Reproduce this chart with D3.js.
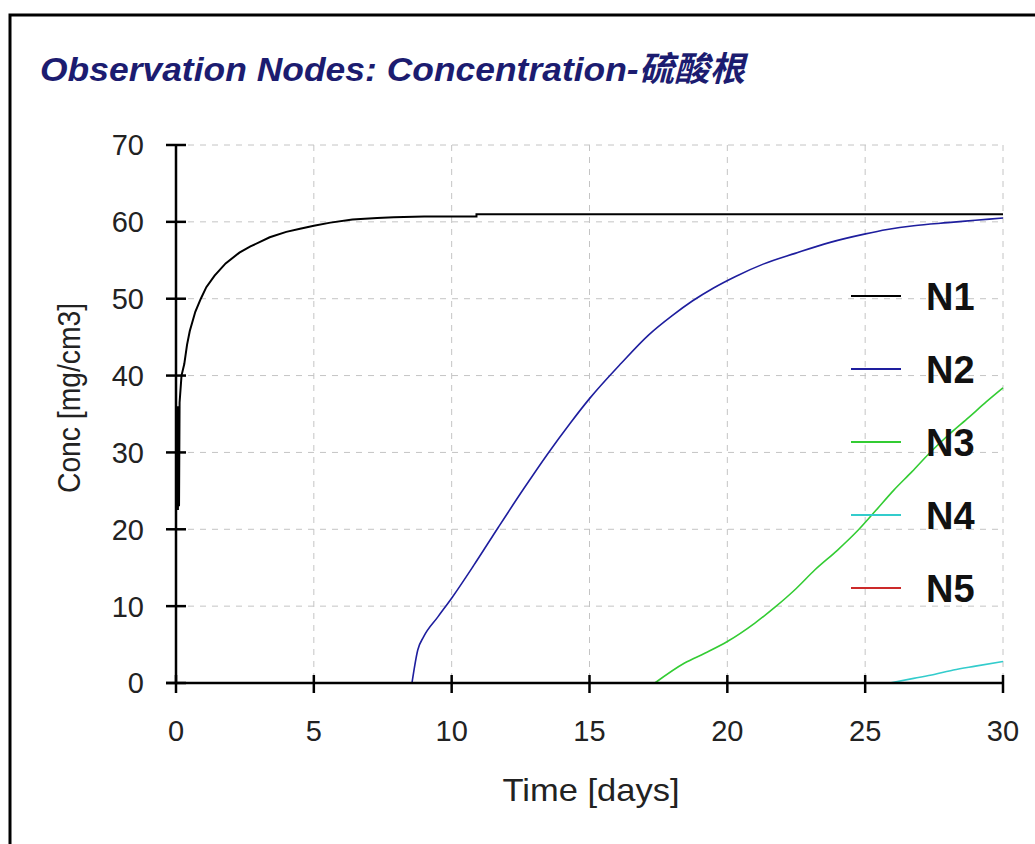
<!DOCTYPE html>
<html>
<head>
<meta charset="utf-8">
<script src="https://cdn.jsdelivr.net/npm/d3@7"></script>
<style>
  body { margin: 0; background: #fff; }
  svg { display: block; }
  text { font-family: "Liberation Sans", Arial, "Noto Sans CJK SC", sans-serif; }
</style>
</head>
<body>
<svg id="chart" width="1035" height="844"></svg>
<script>
// series: [time (days), conc]
var seriesNames = ["N1", "N2", "N3", "N4", "N5"];
var seriesColors = ["#000000", "#1e1e9e", "#33cc33", "#33cccc", "#cc2a2a"];

var n1 = [[0.05, 36], [0.07, 22.5], [0.09, 36], [0.11, 23], [0.13, 36.5], [0.2, 40], [0.3, 41.5],
  [0.4, 44], [0.5, 45.8], [0.7, 48.3], [0.9, 50], [1.1, 51.5], [1.4, 53], [1.8, 54.6], [2.3, 56],
  [2.7, 56.8], [3.4, 58], [4.0, 58.7], [4.5, 59.1], [5.0, 59.5], [5.6, 59.9], [6.4, 60.3],
  [7.3, 60.5], [7.9, 60.6], [9.0, 60.7], [10.9, 60.7], [10.9, 61.0], [30, 61.0]];
var n2 = [[8.56, 0], [8.77, 4.3], [8.98, 6.0], [9.5, 8.6], [10.03, 11.2], [10.8, 15.3], [11.7, 20.3],
  [12.6, 25.2], [13.5, 29.9], [14.3, 33.8], [15.0, 37.0], [16.15, 41.6], [17.15, 45.3], [18.0, 47.8],
  [18.73, 49.7], [19.5, 51.4], [20.3, 52.9], [21.3, 54.5], [22.46, 55.9], [23.7, 57.3], [24.97, 58.4],
  [25.8, 59.0], [26.76, 59.5], [28.0, 59.9], [29.0, 60.2], [30.0, 60.5]];
var n3 = [[17.37, 0], [18.45, 2.6], [19.2, 3.9], [20.0, 5.4], [21.0, 7.8], [21.74, 9.9], [22.5, 12.3],
  [23.17, 14.7], [24.0, 17.3], [24.75, 19.9], [25.4, 22.5], [26.04, 25.1], [26.7, 27.5], [27.33, 29.9],
  [28.0, 32.2], [28.77, 34.6], [29.4, 36.6], [30, 38.4]];
var n4 = [[25.9, 0], [26.76, 0.6], [27.5, 1.1], [28.2, 1.7], [29.0, 2.2], [30, 2.8]];
var n5 = [[0, 0], [30, 0]];
var seriesData = [n1, n2, n3, n4, n5];

var xTicks = [0, 5, 10, 15, 20, 25, 30];
var yTicks = [0, 10, 20, 30, 40, 50, 60, 70];

var titleText = "Observation Nodes: Concentration-硫酸根";
var xLabel = "Time [days]";
var yLabel = "Conc [mg/cm3]";

var svg = d3.select("#chart");

// frame
svg.append("path")
  .attr("d", "M10,844V15H1035")
  .attr("fill", "none")
  .attr("stroke", "#000")
  .attr("stroke-width", 3);

var x = d3.scaleLinear().domain([0, 30]).range([176, 1003]);
var y = d3.scaleLinear().domain([0, 70]).range([683, 145]);

// grid
var grid = svg.append("g").attr("stroke", "#c4c4c4").attr("stroke-dasharray", "6,6").attr("stroke-width", 1);
grid.selectAll(".gx").data(xTicks.filter(d => d > 0)).enter().append("line")
  .attr("x1", d => x(d)).attr("x2", d => x(d))
  .attr("y1", y(70)).attr("y2", y(0));
grid.selectAll(".gy").data(yTicks.filter(d => d > 0)).enter().append("line")
  .attr("x1", x(0)).attr("x2", x(30))
  .attr("y1", d => y(d)).attr("y2", d => y(d));

// curves (N1 has vertical steps, keep it linear)
var lineStep = d3.line().x(d => x(d[0])).y(d => y(d[1]));
var lineSmooth = d3.line().x(d => x(d[0])).y(d => y(d[1])).curve(d3.curveMonotoneX);
// draw N5 first so the axis covers it
for (var i = seriesData.length - 1; i >= 0; i--) {
  svg.append("path")
    .datum(seriesData[i])
    .attr("d", i == 0 ? lineStep : lineSmooth)
    .attr("fill", "none")
    .attr("stroke", seriesColors[i])
    .attr("stroke-width", i == 0 ? 2 : 1.6);
}

// axes
var ax = svg.append("g").attr("stroke", "#000").attr("stroke-width", 2.5);
ax.append("line").attr("x1", x(0)).attr("x2", x(0)).attr("y1", y(70)).attr("y2", y(0));
ax.append("line").attr("x1", x(0) - 10).attr("x2", x(30)).attr("y1", y(0)).attr("y2", y(0));
ax.selectAll(".ty").data(yTicks).enter().append("line")
  .attr("x1", x(0) - 10).attr("x2", x(0) + 10)
  .attr("y1", d => y(d)).attr("y2", d => y(d));
ax.selectAll(".tx").data(xTicks).enter().append("line")
  .attr("x1", d => x(d)).attr("x2", d => x(d))
  .attr("y1", y(0) - 8).attr("y2", y(0) + 10);

// tick labels
svg.selectAll(".ly").data(yTicks).enter().append("text")
  .attr("x", 144).attr("y", d => y(d))
  .attr("dy", "0.36em")
  .attr("text-anchor", "end")
  .attr("font-size", 29)
  .attr("fill", "#222")
  .text(d => d);
svg.selectAll(".lx").data(xTicks).enter().append("text")
  .attr("x", d => x(d)).attr("y", 741)
  .attr("text-anchor", "middle")
  .attr("font-size", 29)
  .attr("fill", "#222")
  .text(d => d);

// axis titles
svg.append("text")
  .attr("x", 591).attr("y", 801)
  .attr("text-anchor", "middle")
  .attr("font-size", 32)
  .attr("fill", "#222")
  .attr("textLength", 177).attr("lengthAdjust", "spacingAndGlyphs")
  .text(xLabel);
svg.append("text")
  .attr("transform", "translate(80,398) rotate(-90)")
  .attr("text-anchor", "middle")
  .attr("font-size", 31)
  .attr("fill", "#222")
  .attr("textLength", 190).attr("lengthAdjust", "spacingAndGlyphs")
  .text(yLabel);

// title
svg.append("text")
  .attr("x", 40).attr("y", 81)
  .attr("font-size", 34)
  .attr("font-weight", "bold")
  .attr("font-style", "italic")
  .attr("fill", "#1c1c70")
  .attr("textLength", 705).attr("lengthAdjust", "spacingAndGlyphs")
  .text(titleText);

// legend
var legend = svg.selectAll(".leg").data(seriesNames).enter().append("g")
  .attr("transform", (d, i) => "translate(0," + (296 + i * 73) + ")");
legend.append("line")
  .attr("x1", 851).attr("x2", 901)
  .attr("stroke", (d, i) => seriesColors[i])
  .attr("stroke-width", 2);
legend.append("text")
  .attr("x", 926).attr("dy", "0.36em")
  .attr("font-size", 38)
  .attr("font-weight", "bold")
  .attr("fill", "#111")
  .text(d => d);
</script>
</body>
</html>
